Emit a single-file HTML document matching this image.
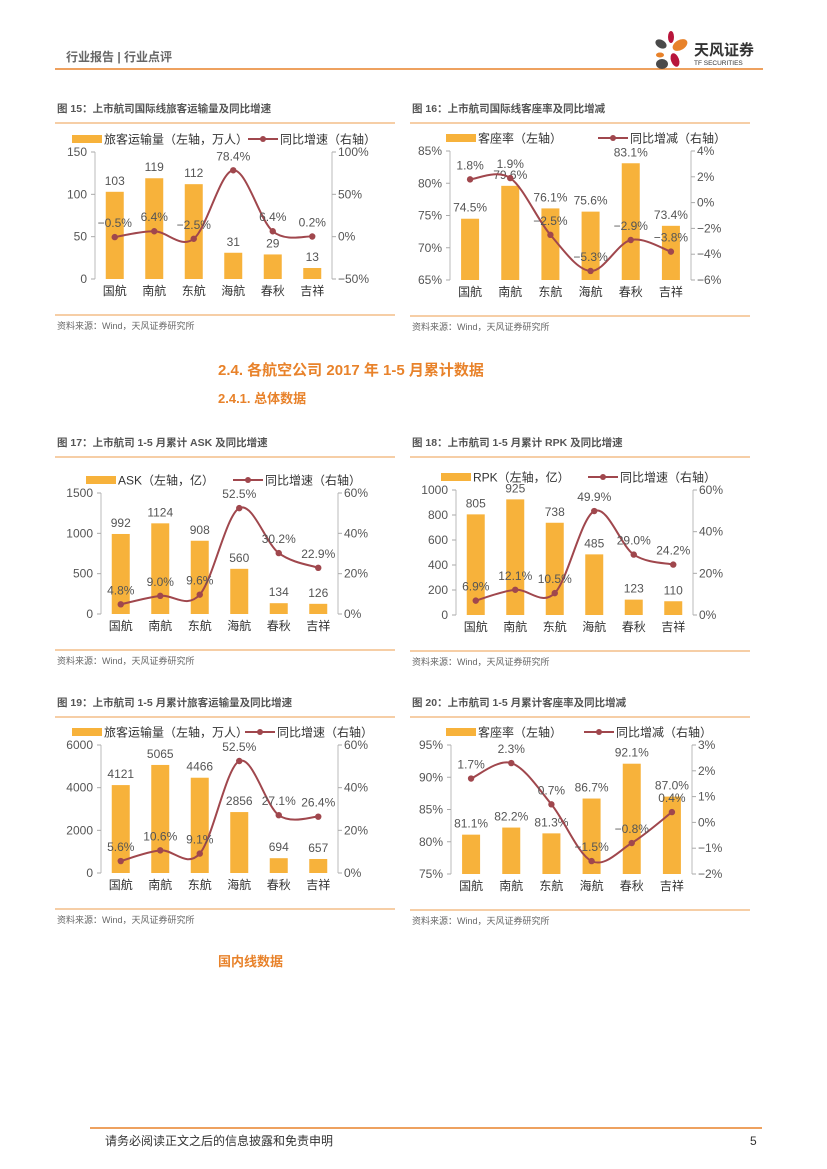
<!DOCTYPE html>
<html><head><meta charset="utf-8">
<style>
html,body{margin:0;padding:0;background:#fff;}
svg{display:block;font-family:"Liberation Sans","Noto Sans CJK SC",sans-serif;}
</style></head>
<body>
<svg id="pg" width="827" height="1169" viewBox="0 0 827 1169" xmlns="http://www.w3.org/2000/svg">
<g>
<text x="66" y="61" font-size="12" font-weight="bold" fill="#666">行业报告 | 行业点评</text>
<line x1="55" y1="69" x2="763" y2="69" stroke="#E8822A" stroke-width="1.5"/>
<g>
<ellipse cx="671" cy="37" rx="3" ry="6" fill="#B8153B"/>
<ellipse cx="661" cy="44" rx="6" ry="4" fill="#4a4a4a" transform="rotate(30 661 44)"/>
<ellipse cx="680" cy="45" rx="8" ry="5" fill="#E8822A" transform="rotate(-30 680 45)"/>
<ellipse cx="660" cy="55" rx="4" ry="2.5" fill="#E8822A"/>
<ellipse cx="662" cy="64" rx="6" ry="5" fill="#4a4a4a"/>
<ellipse cx="675" cy="60" rx="4" ry="7" fill="#B8153B" transform="rotate(-20 675 60)"/>
<text x="694" y="55" font-size="15" font-weight="bold" fill="#333">天风证券</text>
<text x="694" y="65" font-size="6.5" fill="#333">TF SECURITIES</text>
</g>
</g>
<g>
<text x="218" y="375" font-size="15" font-weight="bold" fill="#E8822A">2.4. 各航空公司 2017 年 1-5 月累计数据</text>
<text x="218" y="403" font-size="13" font-weight="bold" fill="#E8822A">2.4.1. 总体数据</text>
<text x="218" y="966" font-size="13" font-weight="bold" fill="#E8822A">国内线数据</text>
</g>
<g>
<line x1="90" y1="1128" x2="762" y2="1128" stroke="#E8822A" stroke-width="1.5"/>
<text x="105" y="1145" font-size="12" fill="#333">请务必阅读正文之后的信息披露和免责申明</text>
<text x="750" y="1145" font-size="12" fill="#333">5</text>
</g>
</svg>
<script>
const cats = ["国航","南航","东航","海航","春秋","吉祥"];
const c15Bars = [103,119,112,31,29,13];
const c15Line = [-0.5,6.4,-2.5,78.4,6.4,0.2];
const c15LeftTicks = [0,50,100,150];
const c15RightTicks = [-50,0,50,100];
const c16Bars = [74.5,79.6,76.1,75.6,83.1,73.4];
const c16Line = [1.8,1.9,-2.5,-5.3,-2.9,-3.8];
const c16LeftTicks = [65,70,75,80,85];
const c16RightTicks = [-6,-4,-2,0,2,4];
const c17Bars = [992,1124,908,560,134,126];
const c17Line = [4.8,9.0,9.6,52.5,30.2,22.9];
const c17LeftTicks = [0,500,1000,1500];
const c17RightTicks = [0,20,40,60];
const c18Bars = [805,925,738,485,123,110];
const c18Line = [6.9,12.1,10.5,49.9,29.0,24.2];
const c18LeftTicks = [0,200,400,600,800,1000];
const c18RightTicks = [0,20,40,60];
const c19Bars = [4121,5065,4466,2856,694,657];
const c19Line = [5.6,10.6,9.1,52.5,27.1,26.4];
const c19LeftTicks = [0,2000,4000,6000];
const c19RightTicks = [0,20,40,60];
const c20Bars = [81.1,82.2,81.3,86.7,92.1,87.0];
const c20Line = [1.7,2.3,0.7,-1.5,-0.8,0.4];
const c20LeftTicks = [75,80,85,90,95];
const c20RightTicks = [-2,-1,0,1,2,3];

const NS="http://www.w3.org/2000/svg";
const pg=document.getElementById('pg');
function mk(tag,attrs,parent,txt){const e=document.createElementNS(NS,tag);for(const k in attrs)e.setAttribute(k,attrs[k]);if(txt!==undefined)e.textContent=txt;parent.appendChild(e);return e;}
const BAR="#F7B23B",LINE="#A0474D",TXT="#555";

function chart(o){
  const g=mk('g',{},pg);
  
  
  const t=mk('text',{x:o.px+2,y:o.ty,'font-size':10.5,'font-weight':'bold',fill:'#555'},g,o.title);
  
  
  mk('line',{x1:o.px,y1:o.ty+11,x2:o.px+340,y2:o.ty+11,stroke:'#F0B070','stroke-width':1.2},g);
  mk('line',{x1:o.px,y1:o.B+36,x2:o.px+340,y2:o.B+36,stroke:'#F0B070','stroke-width':1.2},g);
  const s=mk('text',{x:o.px+2,y:o.B+50,'font-size':9,fill:'#666'},g,'资料来源：Wind，天风证券研究所');
  
  
  const lg=mk('g',{},g);
  
  
  const ly=o.T-13;
  mk('rect',{x:o.lx,y:ly-4,width:30,height:8,fill:BAR},lg);
  mk('text',{x:o.lx+32,y:ly+4.5,'font-size':12,fill:'#333'},lg,o.barName);
  mk('line',{x1:o.lx2,y1:ly,x2:o.lx2+30,y2:ly,stroke:LINE,'stroke-width':2},lg);
  mk('circle',{cx:o.lx2+15,cy:ly,r:3,fill:LINE},lg);
  mk('text',{x:o.lx2+32,y:ly+4.5,'font-size':12,fill:'#333'},lg,o.lineName);
  const lt=o.lt, rt=o.rt;
  const lmin=lt[0],lmax=lt[lt.length-1],rmin=rt[0],rmax=rt[rt.length-1];
  const yL=v=>o.B-(v-lmin)/(lmax-lmin)*(o.B-o.T);
  const yR=v=>o.B-(v-rmin)/(rmax-rmin)*(o.B-o.T);
  const step=(o.R-o.L)/6;
  const xC=i=>o.L+step*(i+0.5);
  mk('line',{x1:o.L,y1:o.T,x2:o.L,y2:o.B,stroke:'#aaa','stroke-width':0.8},g);
  mk('line',{x1:o.R,y1:o.T,x2:o.R,y2:o.B,stroke:'#aaa','stroke-width':0.8},g);
  lt.forEach(v=>{
    mk('line',{x1:o.L-4,y1:yL(v),x2:o.L,y2:yL(v),stroke:'#aaa'},g);
    const e=mk('text',{x:o.L-8,y:yL(v)+4,'font-size':12,fill:TXT,'text-anchor':'end'},g,v+o.lsuf);
    
    
  });
  rt.forEach(v=>{
    mk('line',{x1:o.R,y1:yR(v),x2:o.R+4,y2:yR(v),stroke:'#aaa'},g);
    const e=mk('text',{x:o.R+6,y:yR(v)+4,'font-size':12,fill:TXT},g,(v<0?'\u2212'+(-v):v)+'%');
    
    
  });
  o.bars.forEach((v,i)=>{
    const r=mk('rect',{x:xC(i)-9,y:yL(v),width:18,height:o.B-yL(v),fill:BAR},g);
    
    
    const lbl=o.bsuf? v.toFixed(1)+o.bsuf : String(v);
    const e=mk('text',{x:xC(i),y:yL(v)-7,'font-size':12,fill:TXT,'text-anchor':'middle'},g,lbl);
    
    
    const c=mk('text',{x:xC(i),y:o.B+16,'font-size':12,fill:'#333','text-anchor':'middle'},g,cats[i]);
    
    
  });
  const pts=o.line.map((v,i)=>[xC(i),yR(v)]);
  let d='M'+pts[0][0]+','+pts[0][1];
  for(let i=0;i<pts.length-1;i++){
    const p0=pts[Math.max(0,i-1)],p1=pts[i],p2=pts[i+1],p3=pts[Math.min(pts.length-1,i+2)];
    const c1=[p1[0]+(p2[0]-p0[0])/6,p1[1]+(p2[1]-p0[1])/6];
    const c2=[p2[0]-(p3[0]-p1[0])/6,p2[1]-(p3[1]-p1[1])/6];
    d+=' C'+c1+' '+c2+' '+p2;
  }
  const pth=mk('path',{d:d,fill:'none',stroke:LINE,'stroke-width':2},g);
  
  
  o.line.forEach((v,i)=>{
    const c=mk('circle',{cx:pts[i][0],cy:pts[i][1],r:3.2,fill:LINE},g);
    
    
    const e=mk('text',{x:pts[i][0],y:pts[i][1]-10,'font-size':12,fill:TXT,'text-anchor':'middle'},g,(v<0?'\u2212'+(-v).toFixed(1):v.toFixed(1))+'%');
    
    
  });
}
chart({name:'chart-15-intl-passengers',title:'图 15：上市航司国际线旅客运输量及同比增速',px:55,ty:112,L:95,R:332,T:152,B:279,lx:72,lx2:248,barName:'旅客运输量（左轴，万人）',lineName:'同比增速（右轴）',bars:c15Bars,line:c15Line,lt:c15LeftTicks,rt:c15RightTicks,lsuf:'',bsuf:''});
chart({name:'chart-16-intl-load-factor',title:'图 16：上市航司国际线客座率及同比增减',px:410,ty:112,L:450,R:691,T:151,B:280,lx:446,lx2:598,barName:'客座率（左轴）',lineName:'同比增减（右轴）',bars:c16Bars,line:c16Line,lt:c16LeftTicks,rt:c16RightTicks,lsuf:'%',bsuf:'%'});
chart({name:'chart-17-ask',title:'图 17：上市航司 1-5 月累计 ASK 及同比增速',px:55,ty:446,L:101,R:338,T:493,B:614,lx:86,lx2:233,barName:'ASK（左轴，亿）',lineName:'同比增速（右轴）',bars:c17Bars,line:c17Line,lt:c17LeftTicks,rt:c17RightTicks,lsuf:'',bsuf:''});
chart({name:'chart-18-rpk',title:'图 18：上市航司 1-5 月累计 RPK 及同比增速',px:410,ty:446,L:456,R:693,T:490,B:615,lx:441,lx2:588,barName:'RPK（左轴，亿）',lineName:'同比增速（右轴）',bars:c18Bars,line:c18Line,lt:c18LeftTicks,rt:c18RightTicks,lsuf:'',bsuf:''});
chart({name:'chart-19-passengers',title:'图 19：上市航司 1-5 月累计旅客运输量及同比增速',px:55,ty:706,L:101,R:338,T:745,B:873,lx:72,lx2:245,barName:'旅客运输量（左轴，万人）',lineName:'同比增速（右轴）',bars:c19Bars,line:c19Line,lt:c19LeftTicks,rt:c19RightTicks,lsuf:'',bsuf:''});
chart({name:'chart-20-load-factor',title:'图 20：上市航司 1-5 月累计客座率及同比增减',px:410,ty:706,L:451,R:692,T:745,B:874,lx:446,lx2:584,barName:'客座率（左轴）',lineName:'同比增减（右轴）',bars:c20Bars,line:c20Line,lt:c20LeftTicks,rt:c20RightTicks,lsuf:'%',bsuf:'%'});
</script>
</body></html>
